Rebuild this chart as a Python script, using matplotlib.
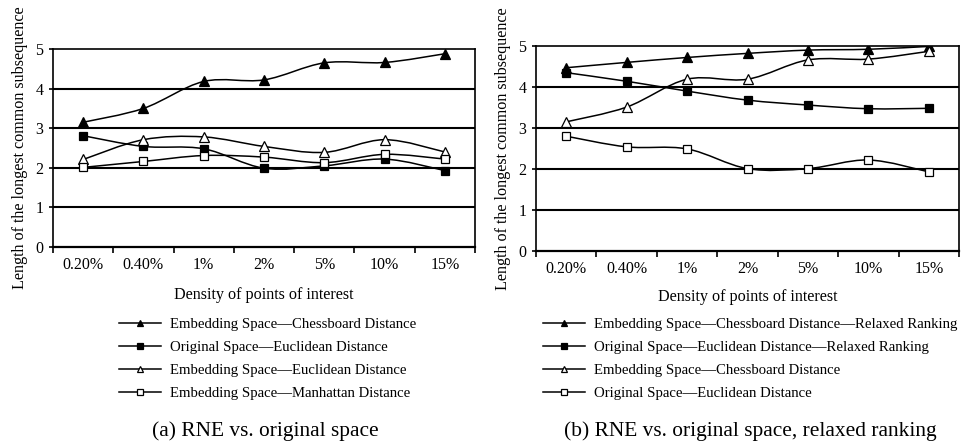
import numpy as np
import matplotlib
matplotlib.use("Agg")
import matplotlib.pyplot as plt
from matplotlib.path import Path
from matplotlib.patches import PathPatch
from matplotlib.lines import Line2D

plt.rcParams['font.family'] = ['Liberation Serif', 'DejaVu Serif']

categories = ["0.20%", "0.40%", "1%", "2%", "5%", "10%", "15%"]

# (a) RNE vs. original space
a_emb_chess = [3.15, 3.50, 4.18, 4.22, 4.65, 4.66, 4.88]
a_orig_eucl = [2.81, 2.54, 2.48, 1.99, 2.05, 2.22, 1.93]
a_emb_eucl = [2.21, 2.71, 2.78, 2.54, 2.39, 2.71, 2.40]
a_emb_manh = [2.01, 2.16, 2.31, 2.27, 2.13, 2.34, 2.22]

# (b) RNE vs. original space, relaxed ranking
b_emb_chess_rr = [4.47, 4.60, 4.72, 4.82, 4.90, 4.92, 4.99]
b_orig_eucl_rr = [4.35, 4.14, 3.90, 3.68, 3.56, 3.47, 3.48]
b_emb_chess = [3.15, 3.51, 4.19, 4.19, 4.66, 4.68, 4.87]
b_orig_eucl = [2.80, 2.54, 2.49, 2.01, 2.01, 2.22, 1.93]

labels_a = ["Embedding Space\u2014Chessboard Distance",
            "Original Space\u2014Euclidean Distance",
            "Embedding Space\u2014Euclidean Distance",
            "Embedding Space\u2014Manhattan Distance"]
labels_b = ["Embedding Space\u2014Chessboard Distance\u2014Relaxed Ranking",
            "Original Space\u2014Euclidean Distance\u2014Relaxed Ranking",
            "Embedding Space\u2014Chessboard Distance",
            "Original Space\u2014Euclidean Distance"]

styles = [dict(marker='^', mfc='black', ms=6.5), dict(marker='s', mfc='black', ms=5.5),
          dict(marker='^', mfc='white', ms=6.5), dict(marker='s', mfc='white', ms=5.5)]


def smooth_path(x, y):
    # Excel-style smoothed line rendered as cubic Bezier segments through the data points
    x = np.asarray(x, float); y = np.asarray(y, float)
    pts = np.column_stack([x, y])
    n = len(pts)
    verts = [pts[0]]
    codes = [Path.MOVETO]
    for i in range(n - 1):
        p0 = pts[i - 1] if i > 0 else pts[i]
        p1 = pts[i]
        p2 = pts[i + 1]
        p3 = pts[i + 2] if i + 2 < n else pts[i + 1]
        c1 = p1 + (p2 - p0) / 6.0
        c2 = p2 - (p3 - p1) / 6.0
        verts += [c1, c2, p2]
        codes += [Path.CURVE4] * 3
    return Path(verts, codes)


W, H = 962, 446
fig = plt.figure(figsize=(W / 100, H / 100), dpi=100)

ax_a = fig.add_axes([53 / W, 1 - 247 / H, 422 / W, 198 / H])
ax_b = fig.add_axes([536 / W, 1 - 251 / H, 423 / W, 205 / H])

xs = np.arange(len(categories))

def draw(ax, series, labels, leg_x, leg_y, cap_text, cap_x, xlab_pad):
    for vals, st in zip(series, styles):
        ax.add_patch(PathPatch(smooth_path(xs, vals), fill=False, edgecolor='black', lw=1.1, zorder=3))
        ax.plot(xs, vals, linestyle='none', marker=st['marker'], mfc=st['mfc'], mec='black',
                mew=0.9, ms=st['ms'], zorder=4)
    ax.set_xlim(-0.5, len(categories) - 0.5)
    ax.set_ylim(0, 5)
    ax.set_yticks(range(0, 6))
    ax.set_xticks(xs)
    ax.set_xticklabels(categories)
    ax.set_xticks(np.arange(-0.5, len(categories), 1.0), minor=True)
    ax.tick_params(axis='x', which='major', length=0, labelsize=11.5, pad=7)
    ax.tick_params(axis='x', which='minor', length=4, width=1.2, direction='out')
    ax.tick_params(axis='y', length=3, width=1.2, direction='out', labelsize=11.5, pad=4)
    for y in range(1, 5):
        ax.axhline(y, color='black', lw=1.5, zorder=1)
    for s in ax.spines.values():
        s.set_linewidth(1.2)
    ax.spines['bottom'].set_linewidth(1.6)
    ax.set_xlabel("Density of points of interest", fontsize=11.6, labelpad=xlab_pad)
    ax.set_ylabel("Length of the longest common subsequence", fontsize=11.6, labelpad=5)
    handles = [Line2D([], [], color='black', lw=1.1, marker=st['marker'], mfc=st['mfc'],
                      mec='black', ms=4.5, mew=0.9) for st in styles]
    fig.legend(handles, labels, loc='upper left', bbox_to_anchor=(leg_x / W, 1 - leg_y / H),
               frameon=False, fontsize=10.6, handlelength=2.85, handletextpad=0.6,
               labelspacing=0.66, borderpad=0, borderaxespad=0)
    fig.text(cap_x / W, 1 - 431 / H, cap_text, fontsize=15.4, ha='center', va='center')

draw(ax_a, [a_emb_chess, a_orig_eucl, a_emb_eucl, a_emb_manh], labels_a, 119, 318,
     "(a) RNE vs. original space", 265, 10)
draw(ax_b, [b_emb_chess_rr, b_orig_eucl_rr, b_emb_chess, b_orig_eucl], labels_b, 543, 318,
     "(b) RNE vs. original space, relaxed ranking", 750, 9)

fig.savefig("out.png", dpi=100)
